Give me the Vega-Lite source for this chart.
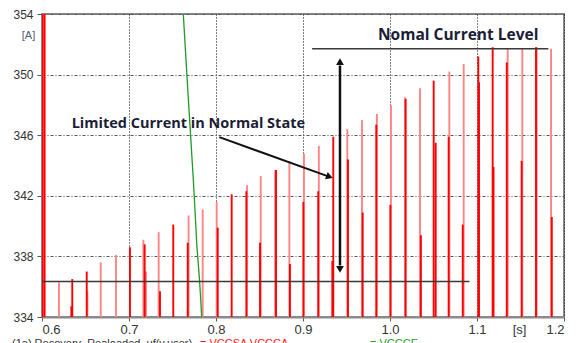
{
  "$schema": "https://vega.github.io/schema/vega-lite/v6.json",
  "width": 522,
  "height": 303,
  "autosize": {"type": "none"},
  "padding": {"left": 42, "top": 14, "right": 12, "bottom": 26},
  "background": "white",
  "config": {
    "view": {"stroke": "#8a8a8a", "strokeWidth": 2},
    "axis": {
      "labelFont": "Liberation Sans",
      "titleFont": "Liberation Sans",
      "labelColor": "#333333",
      "titleColor": "#333333",
      "domainColor": "#8a8a8a",
      "domainWidth": 2,
      "tickColor": "#555555"
    },
    "axisX": {"gridDash": [1, 2], "gridColor": "#000000", "gridOpacity": 1, "gridWidth": 1},
    "axisY": {"gridDash": [3, 2, 1, 2], "gridColor": "#555555", "gridOpacity": 1, "gridWidth": 1}
  },
  "datasets": {
    "spikes": [
      {"t": 0.6005, "v": 360, "s": "A"}, {"t": 0.6030, "v": 360, "s": "A"}, {"t": 0.6017, "v": 360, "s": "B"},
      {"t": 0.6195, "v": 336.3, "s": "B"},
      {"t": 0.6348, "v": 336.5, "s": "A"}, {"t": 0.6337, "v": 334.7, "s": "A"},
      {"t": 0.6514, "v": 337.0, "s": "A"}, {"t": 0.6522, "v": 335.7, "s": "B"},
      {"t": 0.6675, "v": 337.6, "s": "B"},
      {"t": 0.6851, "v": 338.1, "s": "B"},
      {"t": 0.7011, "v": 338.6, "s": "A"},
      {"t": 0.7165, "v": 339.1, "s": "B"}, {"t": 0.7180, "v": 338.8, "s": "A"}, {"t": 0.7195, "v": 337.0, "s": "B"},
      {"t": 0.7341, "v": 339.6, "s": "B"}, {"t": 0.7356, "v": 335.7, "s": "A"},
      {"t": 0.7509, "v": 340.1, "s": "A"},
      {"t": 0.7685, "v": 340.7, "s": "B"}, {"t": 0.7675, "v": 338.9, "s": "A"},
      {"t": 0.7847, "v": 341.1, "s": "B"},
      {"t": 0.8008, "v": 341.6, "s": "B"}, {"t": 0.8020, "v": 339.9, "s": "A"},
      {"t": 0.8180, "v": 342.1, "s": "A"},
      {"t": 0.8357, "v": 342.7, "s": "B"}, {"t": 0.8349, "v": 342.3, "s": "A"},
      {"t": 0.8514, "v": 343.3, "s": "B"}, {"t": 0.8506, "v": 338.9, "s": "A"},
      {"t": 0.8680, "v": 343.7, "s": "B"}, {"t": 0.8690, "v": 343.7, "s": "A"},
      {"t": 0.8843, "v": 344.3, "s": "B"}, {"t": 0.8850, "v": 337.5, "s": "A"},
      {"t": 0.9011, "v": 344.8, "s": "B"}, {"t": 0.9004, "v": 341.6, "s": "A"},
      {"t": 0.9182, "v": 345.3, "s": "B"}, {"t": 0.9175, "v": 342.3, "s": "A"},
      {"t": 0.9348, "v": 345.9, "s": "A"}, {"t": 0.9337, "v": 337.7, "s": "A"},
      {"t": 0.9509, "v": 346.4, "s": "B"}, {"t": 0.9517, "v": 344.4, "s": "A"},
      {"t": 0.9678, "v": 347.0, "s": "B"}, {"t": 0.9686, "v": 340.9, "s": "A"},
      {"t": 0.9850, "v": 347.4, "s": "B"}, {"t": 0.9842, "v": 346.7, "s": "A"},
      {"t": 1.0011, "v": 348.0, "s": "B"}, {"t": 1.0004, "v": 341.4, "s": "A"},
      {"t": 1.0172, "v": 348.5, "s": "B"}, {"t": 1.0180, "v": 348.4, "s": "A"},
      {"t": 1.0345, "v": 349.1, "s": "B"}, {"t": 1.0355, "v": 339.4, "s": "A"},
      {"t": 1.0502, "v": 349.6, "s": "A"}, {"t": 1.0525, "v": 345.5, "s": "A"},
      {"t": 1.0682, "v": 350.2, "s": "B"}, {"t": 1.0674, "v": 345.9, "s": "A"},
      {"t": 1.0847, "v": 350.7, "s": "B"}, {"t": 1.0836, "v": 340.1, "s": "A"},
      {"t": 1.1015, "v": 351.2, "s": "A"}, {"t": 1.1023, "v": 349.5, "s": "A"},
      {"t": 1.1180, "v": 351.8, "s": "A"}, {"t": 1.1190, "v": 343.9, "s": "A"},
      {"t": 1.1353, "v": 351.7, "s": "B"}, {"t": 1.1342, "v": 350.8, "s": "A"},
      {"t": 1.1521, "v": 351.7, "s": "B"}, {"t": 1.1513, "v": 344.3, "s": "A"},
      {"t": 1.1678, "v": 351.8, "s": "A"}, {"t": 1.1686, "v": 351.8, "s": "B"},
      {"t": 1.1851, "v": 351.7, "s": "B"}, {"t": 1.1860, "v": 340.6, "s": "A"}
    ],
    "green": [
      {"t": 0.7610, "v": 356},
      {"t": 0.7624, "v": 354},
      {"t": 0.7682, "v": 348.4},
      {"t": 0.7739, "v": 343.1},
      {"t": 0.7760, "v": 340.9},
      {"t": 0.7780, "v": 338.7},
      {"t": 0.7810, "v": 336.5},
      {"t": 0.7825, "v": 335.1},
      {"t": 0.7835, "v": 334}
    ],
    "levels": [
      {"t": 0.9105, "t2": 1.182, "v": 351.7},
      {"t": 0.6, "t2": 1.0913, "v": 336.35}
    ]
  },
  "layer": [
    {
      "data": {"name": "spikes"},
      "mark": {"type": "rule", "strokeWidth": 1.9, "clip": true},
      "encoding": {
        "x": {
          "field": "t", "type": "quantitative",
          "scale": {"domain": [0.6, 1.2], "nice": false, "zero": false},
          "axis": {
            "values": [0.6, 0.7, 0.8, 0.9, 1.0, 1.1, 1.2],
            "format": ".1f",
            "labelFontSize": 13,
            "tickSize": 4,
            "labelPadding": 2,
            "title": "[s]",
            "titleFontSize": 13,
            "titleFontWeight": "normal",
            "titleX": 477,
            "titleY": 12,
            "titleAlign": "center",
            "titleBaseline": "middle",
            "grid": true
          }
        },
        "y": {
          "field": "v", "type": "quantitative",
          "scale": {"domain": [334, 354], "nice": false, "zero": false},
          "axis": {
            "values": [334, 336, 338, 340, 342, 344, 346, 348, 350, 352, 354],
            "labelExpr": "(datum.value - 334) % 4 == 0 ? datum.label : ''",
            "labelFontSize": 12,
            "tickSize": 5,
            "labelPadding": 4,
            "title": "[A]",
            "titleAngle": 0,
            "titleFontSize": 11,
            "titleFontWeight": "normal",
            "titleColor": "#556070",
            "titleX": -14,
            "titleY": 21,
            "titleAlign": "center",
            "titleBaseline": "middle",
            "grid": true
          }
        },
        "y2": {"datum": 334},
        "color": {
          "field": "s", "type": "nominal",
          "scale": {"domain": ["B", "A"], "range": ["#ff8585", "#ff0000"]},
          "legend": null
        },
        "order": {"field": "s", "sort": "descending"}
      }
    },
    {
      "data": {"name": "green"},
      "mark": {"type": "line", "color": "#1f9a2a", "strokeWidth": 1.3, "clip": true},
      "encoding": {
        "x": {"field": "t", "type": "quantitative"},
        "y": {"field": "v", "type": "quantitative"}
      }
    },
    {
      "data": {"name": "levels"},
      "mark": {"type": "rule", "color": "#3a3a3a", "strokeWidth": 1.5},
      "encoding": {
        "x": {"field": "t", "type": "quantitative"},
        "x2": {"field": "t2"},
        "y": {"field": "v", "type": "quantitative"}
      }
    },
    {
      "data": {"values": [{"t": 0.9425, "v": 337.4, "v2": 350.6}]},
      "mark": {"type": "rule", "color": "#111111", "strokeWidth": 2.5},
      "encoding": {
        "x": {"field": "t", "type": "quantitative"},
        "y": {"field": "v", "type": "quantitative"},
        "y2": {"field": "v2"}
      }
    },
    {
      "data": {"values": [{"t": 0.9425, "v": 350.85}]},
      "mark": {"type": "point", "shape": "triangle-up", "filled": true, "color": "#111111", "size": 60, "opacity": 1},
      "encoding": {
        "x": {"field": "t", "type": "quantitative"},
        "y": {"field": "v", "type": "quantitative"}
      }
    },
    {
      "data": {"values": [{"t": 0.9425, "v": 337.15}]},
      "mark": {"type": "point", "shape": "triangle-down", "filled": true, "color": "#111111", "size": 60, "opacity": 1},
      "encoding": {
        "x": {"field": "t", "type": "quantitative"},
        "y": {"field": "v", "type": "quantitative"}
      }
    },
    {
      "data": {"values": [{"t": 0.8038, "v": 345.87, "t2": 0.929, "v2": 343.28}]},
      "mark": {"type": "rule", "color": "#111111", "strokeWidth": 2},
      "encoding": {
        "x": {"field": "t", "type": "quantitative"},
        "y": {"field": "v", "type": "quantitative"},
        "x2": {"field": "t2"},
        "y2": {"field": "v2"}
      }
    },
    {
      "data": {"values": [{"t": 0.9305, "v": 343.25}]},
      "mark": {"type": "point", "shape": "triangle-right", "filled": true, "color": "#111111", "size": 60, "angle": 20, "opacity": 1},
      "encoding": {
        "x": {"field": "t", "type": "quantitative"},
        "y": {"field": "v", "type": "quantitative"}
      }
    },
    {
      "data": {"values": [{"t": 0.6341, "v": 346.71, "label": "Limited Current in Normal State"}]},
      "mark": {"type": "text", "align": "left", "baseline": "middle", "font": "Open Sans", "fontWeight": "bold", "fontSize": 14.5, "color": "#1b1d36"},
      "encoding": {
        "x": {"field": "t", "type": "quantitative"},
        "y": {"field": "v", "type": "quantitative"},
        "text": {"field": "label"}
      }
    },
    {
      "data": {"values": [{"t": 0.9862, "v": 352.59, "label": "Nomal Current Level"}]},
      "mark": {"type": "text", "align": "left", "baseline": "middle", "font": "Open Sans", "fontWeight": "bold", "fontSize": 15.5, "color": "#1b1d36"},
      "encoding": {
        "x": {"field": "t", "type": "quantitative"},
        "y": {"field": "v", "type": "quantitative"},
        "text": {"field": "label"}
      }
    },
    {
      "data": {"values": [{"t": 0.5655, "v": 332.63, "label": "(1a) Recovery_Realoaded_uf(v.user)"}]},
      "mark": {"type": "text", "align": "left", "baseline": "top", "font": "Liberation Sans", "fontSize": 11, "color": "#333333"},
      "encoding": {
        "x": {"field": "t", "type": "quantitative"},
        "y": {"field": "v", "type": "quantitative"},
        "text": {"field": "label"}
      }
    },
    {
      "data": {"values": [{"t": 0.7816, "v": 332.63, "label": "= VCCSA VCCCA"}]},
      "mark": {"type": "text", "align": "left", "baseline": "top", "font": "Liberation Sans", "fontSize": 11, "color": "#ff2020"},
      "encoding": {
        "x": {"field": "t", "type": "quantitative"},
        "y": {"field": "v", "type": "quantitative"},
        "text": {"field": "label"}
      }
    },
    {
      "data": {"values": [{"t": 0.9770, "v": 332.63, "label": "= VCCCE"}]},
      "mark": {"type": "text", "align": "left", "baseline": "top", "font": "Liberation Sans", "fontSize": 11, "color": "#22a022"},
      "encoding": {
        "x": {"field": "t", "type": "quantitative"},
        "y": {"field": "v", "type": "quantitative"},
        "text": {"field": "label"}
      }
    }
  ]
}
